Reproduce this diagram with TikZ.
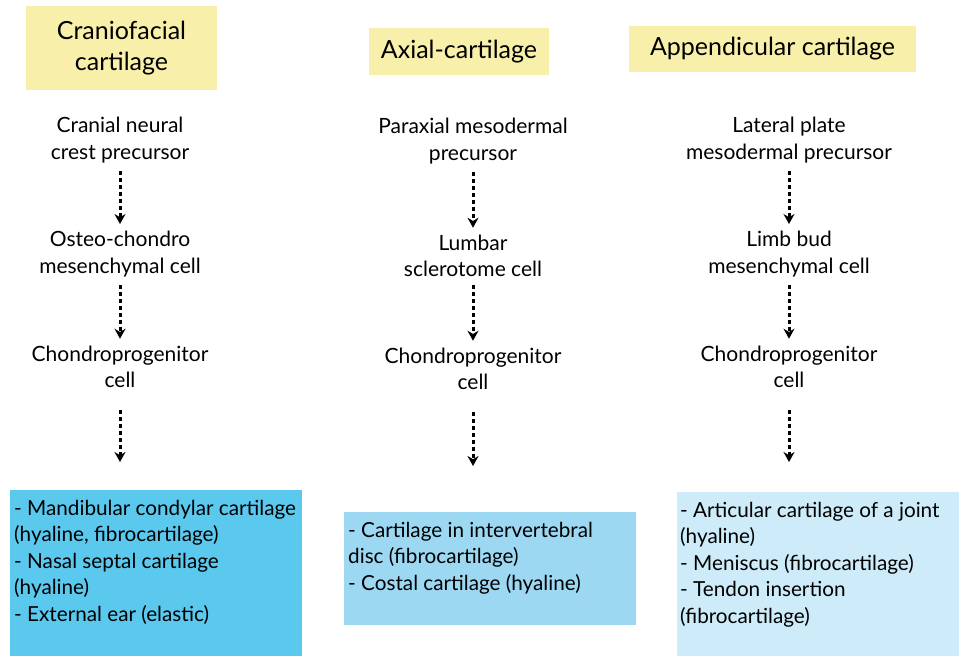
\documentclass[tikz,border=0pt]{standalone}
\usepackage{fontspec}
\setmainfont{Lato}
\usepackage{tikz}
\usetikzlibrary{positioning, arrows.meta, calc}

\definecolor{headyellow}{RGB}{248,240,170}
\definecolor{boxdeep}{RGB}{91,200,238}
\definecolor{boxmid}{RGB}{157,216,243}
\definecolor{boxpale}{RGB}{205,235,248}

\tikzset{
  head/.style={fill=headyellow, align=center, inner sep=0pt, font=\fontsize{25}{31}\selectfont},
  cell/.style={align=center, inner sep=0pt, font=\fontsize{21}{26.5}\selectfont},
  flow/.style={-{Stealth[length=10pt,width=11pt]}, line width=3pt, dash pattern=on 4pt off 3pt},
  panel/.style={anchor=north west, inner sep=0pt},
  listing/.style={anchor=north west, align=left, inner sep=0pt, font=\fontsize{20.7}{26.5}\selectfont},
}

\begin{document}
\begin{tikzpicture}[x=1pt, y=-1pt]
\useasboundingbox (0,0) rectangle (959,656);

% headers
\node[head, minimum width=191pt, minimum height=84pt] (cranHead) at (121.5,48) {Craniofacial\\cartilage};
\node[head, minimum width=180pt, minimum height=47pt] (axialHead) at (459,51.5) {Axial-cartilage};
\node[head, minimum width=287pt, minimum height=46pt] (appHead) at (772.5,49) {Appendicular cartilage};

% craniofacial column
\node[cell] (crestA) at (120,140) {Cranial neural\\crest precursor};
\node[cell] (osteoA) at (120,254) {Osteo-chondro\\mesenchymal cell};
\node[cell] (chondA) at (120,367) {Chondroprogenitor\\cell};

% axial column
\node[cell] (paraB) at (473,141) {Paraxial mesodermal\\precursor};
\node[cell] (lumbB) at (473,256) {Lumbar\\sclerotome cell};
\node[cell] (chondB) at (473,369) {Chondroprogenitor\\cell};

% appendicular column
\node[cell] (lateC) at (789,140) {Lateral plate\\mesodermal precursor};
\node[cell] (limbC) at (789,254) {Limb bud\\mesenchymal cell};
\node[cell] (chondC) at (789,367) {Chondroprogenitor\\cell};

% boxes
\node[panel, fill=boxdeep, minimum width=292pt, minimum height=166pt] (cranBox) at (10,490) {};
\node[panel, fill=boxmid, minimum width=292pt, minimum height=113pt] (axialBox) at (344,512) {};
\node[panel, fill=boxpale, minimum width=282pt, minimum height=164pt] (appBox) at (677,492) {};

\node[listing] (cranList) at ($(cranBox.north west)+(4,10)$) {- Mandibular condylar cartilage\\(hyaline, fibrocartilage)\\- Nasal septal cartilage\\(hyaline)\\- External ear (elastic)};
\node[listing] (axialList) at ($(axialBox.north west)+(4,10)$) {- Cartilage in intervertebral\\disc (fibrocartilage)\\- Costal cartilage (hyaline)};
\node[listing] (appList) at ($(appBox.north west)+(3,10)$) {- Articular cartilage of a joint\\(hyaline)\\- Meniscus (fibrocartilage)\\- Tendon insertion\\(fibrocartilage)};

% arrows
\draw[flow] ([yshift=-8pt]crestA.south) -- ([yshift=7pt]osteoA.north);
\draw[flow] ([yshift=-8pt]osteoA.south) -- ([yshift=7pt]chondA.north);
\draw[flow] ([yshift=-22pt]chondA.south) -- ([yshift=28pt]chondA.south |- cranBox.north);

\draw[flow] ([yshift=-8pt]paraB.south) -- ([yshift=7pt]lumbB.north);
\draw[flow] ([yshift=-8pt]lumbB.south) -- ([yshift=7pt]chondB.north);
\draw[flow] ([yshift=-22pt]chondB.south) -- ([yshift=46pt]chondB.south |- axialBox.north);

\draw[flow] ([yshift=-8pt]lateC.south) -- ([yshift=7pt]limbC.north);
\draw[flow] ([yshift=-8pt]limbC.south) -- ([yshift=7pt]chondC.north);
\draw[flow] ([yshift=-22pt]chondC.south) -- ([yshift=30pt]chondC.south |- appBox.north);
\end{tikzpicture}
\end{document}
